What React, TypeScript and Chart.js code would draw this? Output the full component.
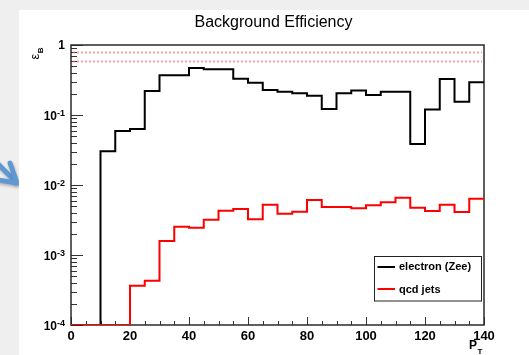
import React, { useEffect, useRef } from "react";
import { Chart, registerables } from "chart.js";

Chart.register(...registerables);

// ---- Data ----
const binEdges = [0, 5, 10, 15, 20, 25, 30, 35, 40, 45, 50, 55, 60, 65, 70, 75, 80, 85, 90, 95, 100, 105, 110, 115, 120, 125, 130, 135, 140];
const electronEff = [0, 0, 0.0303, 0.059, 0.063, 0.22, 0.37, 0.37, 0.47, 0.45, 0.45, 0.33, 0.29, 0.228, 0.215, 0.204, 0.189, 0.122, 0.204, 0.223, 0.193, 0.215, 0.215, 0.0385, 0.12, 0.327, 0.155, 0.293];
const qcdEff = [0, 0, 0, 0, 0.000364, 0.00043, 0.00158, 0.00254, 0.00246, 0.0032, 0.0043, 0.00455, 0.00323, 0.00524, 0.00389, 0.00416, 0.0061, 0.00485, 0.00485, 0.00464, 0.00513, 0.00565, 0.00659, 0.00475, 0.00425, 0.00524, 0.00411, 0.00638];
const refLines = [0.8, 0.6];
const xTickValues = [0, 20, 40, 60, 80, 100, 120, 140];
const xTickLabels = ["0", "20", "40", "60", "80", "100", "120", "140"];
const yTickValues = [1, 0.1, 0.01, 0.001, 0.0001];
const yTickExponents = ["", "-1", "-2", "-3", "-4"];
const legendNames = ["electron (Zee)", "qcd jets"];
const titleText = "Background Efficiency";

const X_MIN = 0;
const X_MAX = 140;
const Y_MIN = 1e-4;
const Y_MAX = 1;

const FONT = "'Liberation Sans', Arial, Helvetica, sans-serif";

function histPoints(values: number[]) {
  const pts = values.map((v, i) => ({ x: binEdges[i], y: Math.max(v, Y_MIN) }));
  pts.push({ x: binEdges[binEdges.length - 1], y: Math.max(values[values.length - 1], Y_MIN) });
  return pts;
}

const decorPlugin = {
  id: "decor",
  beforeDraw(chart: any) {
    const ctx = chart.ctx as CanvasRenderingContext2D;
    const W = chart.width;
    const H = chart.height;
    ctx.save();
    ctx.fillStyle = "#efefef";
    ctx.fillRect(0, 0, W, H);
    // blue arrow at the far left (slide decoration)
    ctx.save();
    ctx.beginPath();
    ctx.rect(0, 0, 19, H);
    ctx.clip();
    ctx.shadowColor = "rgba(0,0,0,0.25)";
    ctx.shadowBlur = 3;
    ctx.shadowOffsetX = 1;
    ctx.shadowOffsetY = 2;
    ctx.strokeStyle = "#5f98d3";
    ctx.lineCap = "round";
    ctx.lineJoin = "round";
    ctx.lineWidth = 5;
    ctx.beginPath();
    ctx.moveTo(-6, 160);
    ctx.lineTo(15, 181);
    ctx.stroke();
    ctx.beginPath();
    ctx.moveTo(10, 163);
    ctx.lineTo(17, 183);
    ctx.lineTo(-1, 180);
    ctx.stroke();
    ctx.restore();
    // white panel
    ctx.fillStyle = "#ffffff";
    ctx.fillRect(19, 10, W - 19, H - 10);
    ctx.restore();
  },
  beforeDatasetsDraw(chart: any) {
    const ctx = chart.ctx as CanvasRenderingContext2D;
    const a = chart.chartArea;
    const xs = chart.scales.x;
    const ys = chart.scales.y;
    ctx.save();
    // ticks
    ctx.strokeStyle = "#333";
    ctx.lineWidth = 1;
    ctx.beginPath();
    for (let v = X_MIN; v <= X_MAX; v += 5) {
      const px = Math.round(xs.getPixelForValue(v)) + 0.5;
      const len = v % 20 === 0 ? 8 : 4;
      ctx.moveTo(px, a.bottom);
      ctx.lineTo(px, a.bottom - len);
    }
    for (let e = -4; e <= 0; e++) {
      const py = Math.round(ys.getPixelForValue(Math.pow(10, e))) + 0.5;
      ctx.moveTo(a.left, py);
      ctx.lineTo(a.left + 12, py);
      if (e < 0) {
        for (let m = 2; m <= 9; m++) {
          const q = Math.round(ys.getPixelForValue(m * Math.pow(10, e))) + 0.5;
          ctx.moveTo(a.left, q);
          ctx.lineTo(a.left + 6, q);
        }
      }
    }
    ctx.stroke();
    // frame
    ctx.strokeStyle = "#2a2a2a";
    ctx.lineWidth = 1.5;
    ctx.strokeRect(a.left, a.top, a.right - a.left, a.bottom - a.top);

    // reference lines drawn through the scales
    ctx.strokeStyle = "rgba(255,110,110,0.65)";
    ctx.lineWidth = 2;
    ctx.setLineDash([2, 2]);
    refLines.forEach((v) => {
      const py = Math.round(ys.getPixelForValue(v)) + 0.5;
      ctx.beginPath();
      ctx.moveTo(a.left + 2, py);
      ctx.lineTo(a.right - 2, py);
      ctx.stroke();
    });
    ctx.setLineDash([]);

    // x tick labels
    ctx.fillStyle = "#000";
    ctx.font = `bold 13px ${FONT}`;
    ctx.textAlign = "center";
    ctx.textBaseline = "alphabetic";
    xTickValues.forEach((v, i) => {
      ctx.fillText(xTickLabels[i], xs.getPixelForValue(v), a.bottom + 14.5);
    });
    // y tick labels with superscripts
    yTickValues.forEach((v, i) => {
      const py = ys.getPixelForValue(v);
      const exp = yTickExponents[i];
      const right = 65;
      if (!exp) {
        ctx.font = `bold 12px ${FONT}`;
        ctx.textAlign = "right";
        ctx.fillText("1", right, py + 3.8);
      } else {
        ctx.font = `bold 9px ${FONT}`;
        const ew = ctx.measureText(exp).width;
        ctx.textAlign = "right";
        ctx.fillText(exp, right, py + 1);
        ctx.font = `bold 12px ${FONT}`;
        ctx.fillText("10", right - ew, py + 5);
      }
    });
    // x axis title P_T
    ctx.textAlign = "left";
    ctx.font = `bold 12px ${FONT}`;
    ctx.fillText("P", 469, 349.3);
    ctx.font = `bold 8px ${FONT}`;
    ctx.fillText("T", 477.5, 354);
    // y axis title epsilon_B (rotated)
    ctx.save();
    ctx.translate(38.5, 59.5);
    ctx.rotate(-Math.PI / 2);
    ctx.font = `13px ${FONT}`;
    ctx.textAlign = "left";
    ctx.fillText("\u03b5", 0, 0);
    const w = ctx.measureText("\u03b5").width;
    ctx.font = `bold 8px ${FONT}`;
    ctx.fillText("B", w + 0.5, 4.5);
    ctx.restore();
    // title
    ctx.font = `16px ${FONT}`;
    ctx.textAlign = "center";
    ctx.fillText(titleText, 273.5, 26.7);
    ctx.restore();
  },
  afterDraw(chart: any) {
    const ctx = chart.ctx as CanvasRenderingContext2D;
    ctx.save();
    // legend box
    ctx.fillStyle = "#fff";
    ctx.fillRect(374.5, 256.5, 107, 44.5);
    ctx.strokeStyle = "#222";
    ctx.lineWidth = 1;
    ctx.strokeRect(374.5, 256.5, 107, 44.5);
    const colors = chart.data.datasets.slice(0, 2).map((d: any) => d.borderColor);
    const rows = [266.7, 289];
    ctx.font = `bold 11px ${FONT}`;
    ctx.textAlign = "left";
    ctx.textBaseline = "middle";
    rows.forEach((y, i) => {
      ctx.strokeStyle = colors[i];
      ctx.lineWidth = 2;
      ctx.beginPath();
      ctx.moveTo(377.5, Math.round(y));
      ctx.lineTo(395, Math.round(y));
      ctx.stroke();
      ctx.fillStyle = "#000";
      ctx.fillText(legendNames[i], 399, y + 0.5);
    });
    ctx.restore();
  },
};

export default function App() {
  const ref = useRef<HTMLCanvasElement | null>(null);
  useEffect(() => {
    if (!ref.current) return;
    const chart = new Chart(ref.current, {
      type: "line",
      data: {
        datasets: [
          {
            label: legendNames[0],
            data: histPoints(electronEff),
            borderColor: "#000000",
            borderWidth: 2,
            stepped: true,
            pointRadius: 0,
            fill: false,
            order: 1,
          },
          {
            label: legendNames[1],
            data: histPoints(qcdEff),
            borderColor: "#ff0000",
            borderWidth: 2,
            stepped: true,
            pointRadius: 0,
            fill: false,
            order: 0,
          },
        ],
      },
      options: {
        responsive: false,
        animation: false,
        devicePixelRatio: 1,
        parsing: false,
        layout: { padding: { left: 71, right: 45, top: 45, bottom: 30 } },
        plugins: {
          legend: { display: false },
          tooltip: { enabled: false },
          title: { display: false },
        },
        scales: {
          x: { type: "linear", min: X_MIN, max: X_MAX, display: false },
          y: { type: "logarithmic", min: Y_MIN, max: Y_MAX, display: false },
        },
      },
      plugins: [decorPlugin],
    } as any);
    return () => chart.destroy();
  }, []);
  return (
    <div style={{ position: "absolute", left: 0, top: 0, width: 529, height: 355 }}>
      <canvas ref={ref} width={529} height={355} style={{ display: "block", width: 529, height: 355 }} />
    </div>
  );
}
